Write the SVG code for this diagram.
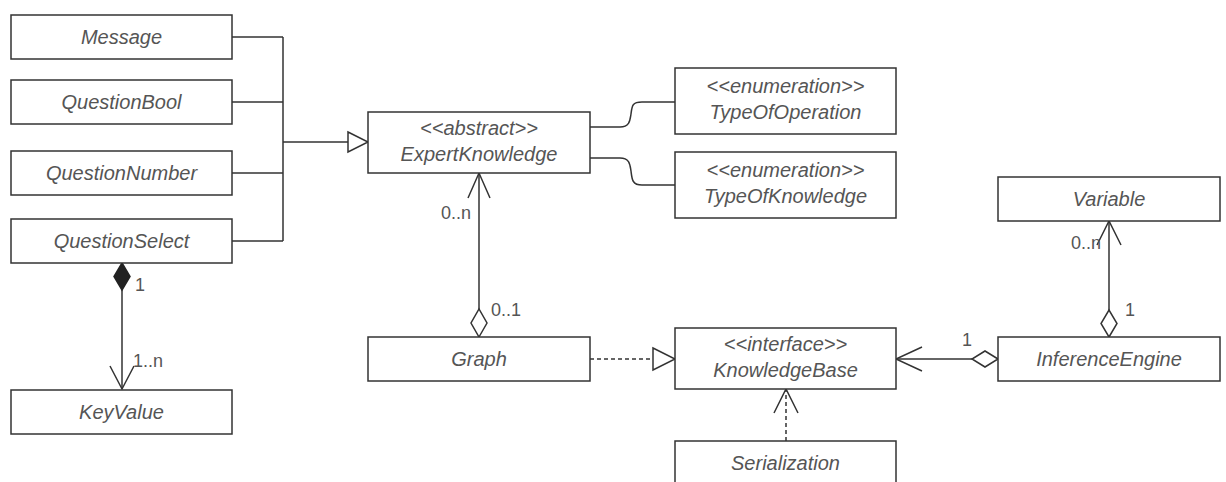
<svg xmlns="http://www.w3.org/2000/svg" width="1226" height="482" viewBox="0 0 1226 482">
<style>
.box{fill:#fff;stroke:#333;stroke-width:1.5}
.name{font-family:"Liberation Sans",Arial,Helvetica,sans-serif;font-size:20px;font-style:italic;fill:#555;text-anchor:middle}
.lbl{font-family:"Liberation Sans",Arial,Helvetica,sans-serif;font-size:18px;fill:#555}
.ln{fill:none;stroke:#333;stroke-width:1.5}
.dash{stroke-dasharray:4 3}
.open{fill:#fff;stroke:#333;stroke-width:1.5}
.solid{fill:#222;stroke:#222;stroke-width:1.5}
</style>
<rect width="1226" height="482" fill="#fff"/>
<g id="connectors">
  <path class="ln" d="M232,37 H283 M232,102 H283 M232,173 H283 M232,241 H283 M283,37 V241 M283,142 H348"/>
  <path class="open" d="M348,132 L368,142 L348,152 Z"/>
  <path class="ln" d="M590,127 H620 C630,127 630,120 631,114 C632,106 632,102 642,102 H675"/>
  <path class="ln" d="M590,158 H620 C630,158 630,165 631,171 C632,179 632,185 642,185 H675"/>
  <path class="ln" d="M122,290 V389"/>
  <path class="solid" d="M122,263 L130,276.5 L122,290 L114,276.5 Z"/>
  <path class="ln" d="M110,366 L122,389 L134,366"/>
  <text class="lbl" x="135" y="291">1</text>
  <text class="lbl" x="133" y="367">1..n</text>
  <path class="ln" d="M479,173 V309"/>
  <path class="ln" d="M468,198 L479,173 L490,198"/>
  <path class="open" d="M479,337 L487,323 L479,309 L471,323 Z"/>
  <text class="lbl" x="471" y="219" text-anchor="end">0..n</text>
  <text class="lbl" x="491" y="316">0..1</text>
  <path class="ln dash" d="M590,359 H653"/>
  <path class="open" d="M653,348 L675,359 L653,370 Z"/>
  <path class="ln dash" d="M786,441 V390"/>
  <path class="ln" d="M774,413 L786,389 L798,413"/>
  <path class="ln" d="M896,359 H972"/>
  <path class="ln" d="M922,347 L896,359 L922,371"/>
  <path class="open" d="M998,359 L985,351 L972,359 L985,367 Z"/>
  <text class="lbl" x="962" y="346">1</text>
  <path class="ln" d="M1109,221 V310"/>
  <path class="ln" d="M1097,245 L1109,221 L1121,245"/>
  <path class="open" d="M1109,337 L1117,323.5 L1109,310 L1101,323.5 Z"/>
  <text class="lbl" x="1101" y="249" text-anchor="end">0..n</text>
  <text class="lbl" x="1125" y="316">1</text>
</g>
<g id="Message"><rect class="box" x="11" y="15" width="221" height="44"/><text class="name" x="121.5" y="44">Message</text></g>
<g id="QuestionBool"><rect class="box" x="11" y="80" width="221" height="44"/><text class="name" x="121.5" y="109">QuestionBool</text></g>
<g id="QuestionNumber"><rect class="box" x="11" y="151" width="221" height="44"/><text class="name" x="121.5" y="180">QuestionNumber</text></g>
<g id="QuestionSelect"><rect class="box" x="11" y="219" width="221" height="44"/><text class="name" x="121.5" y="248">QuestionSelect</text></g>
<g id="KeyValue"><rect class="box" x="11" y="390" width="221" height="44"/><text class="name" x="121.5" y="419">KeyValue</text></g>
<g id="ExpertKnowledge"><rect class="box" x="368" y="112" width="222" height="61"/><text class="name" x="479" y="134.5">&lt;&lt;abstract&gt;&gt;</text><text class="name" x="479" y="160.5">ExpertKnowledge</text></g>
<g id="TypeOfOperation"><rect class="box" x="675" y="68" width="221" height="66"/><text class="name" x="785.5" y="93">&lt;&lt;enumeration&gt;&gt;</text><text class="name" x="785.5" y="119">TypeOfOperation</text></g>
<g id="TypeOfKnowledge"><rect class="box" x="675" y="152" width="221" height="66"/><text class="name" x="785.5" y="177">&lt;&lt;enumeration&gt;&gt;</text><text class="name" x="785.5" y="203">TypeOfKnowledge</text></g>
<g id="Graph"><rect class="box" x="368" y="337" width="222" height="44"/><text class="name" x="479" y="366">Graph</text></g>
<g id="KnowledgeBase"><rect class="box" x="675" y="328" width="221" height="61"/><text class="name" x="785.5" y="350.5">&lt;&lt;interface&gt;&gt;</text><text class="name" x="785.5" y="376.5">KnowledgeBase</text></g>
<g id="Serialization"><rect class="box" x="675" y="441" width="221" height="44"/><text class="name" x="785.5" y="470">Serialization</text></g>
<g id="Variable"><rect class="box" x="998" y="177" width="222" height="44"/><text class="name" x="1109" y="206">Variable</text></g>
<g id="InferenceEngine"><rect class="box" x="998" y="337" width="222" height="44"/><text class="name" x="1109" y="366">InferenceEngine</text></g>
</svg>
